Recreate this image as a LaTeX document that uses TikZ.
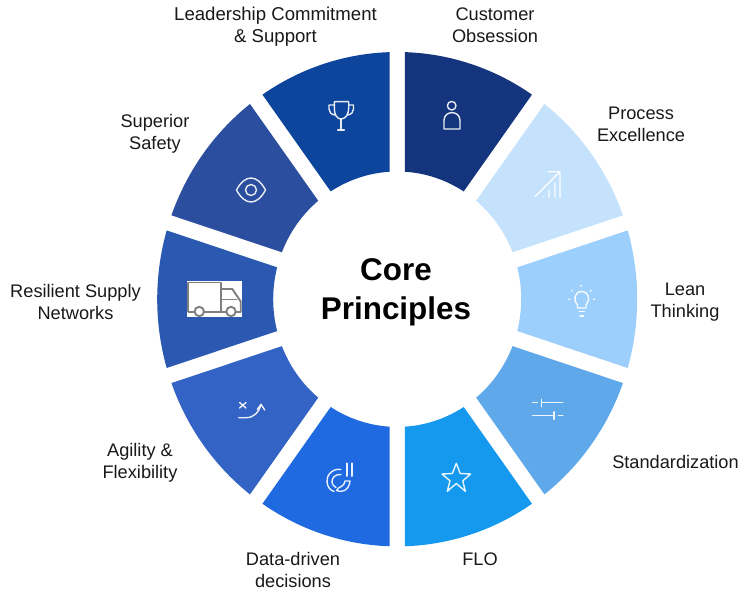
\documentclass[tikz,border=0pt]{standalone}
\usepackage{fontspec}
\setmainfont{Liberation Sans}
\definecolor{cCust}{HTML}{14357E}
\definecolor{cProc}{HTML}{C5E2FD}
\definecolor{cLean}{HTML}{9DCFFD}
\definecolor{cStd}{HTML}{5FA8EA}
\definecolor{cFlo}{HTML}{1599EE}
\definecolor{cData}{HTML}{1F6AE0}
\definecolor{cAgil}{HTML}{3363C4}
\definecolor{cRes}{HTML}{2B58B0}
\definecolor{cSafe}{HTML}{2B4E9E}
\definecolor{cLead}{HTML}{0D459C}
\definecolor{cTruck}{HTML}{7F7F7F}
\tikzset{
  lbl/.style={align=center,inner sep=0pt,text=black!90,font=\fontsize{18.2}{22}\selectfont},
  title/.style={align=center,inner sep=0pt,text=black,font=\fontsize{31.4}{39}\selectfont\bfseries},
  icon/.style={draw=white,line width=1.4pt,line cap=round,line join=round,opacity=.9},
  truckline/.style={draw=cTruck,line width=1.9pt,line join=round}
}
\begin{document}
\begin{tikzpicture}[x=1pt,y=1pt,yscale=-1]
\useasboundingbox (0,0) rectangle (741,591);
\fill[white] (0,0) rectangle (741,591);
\begin{scope}[shift={(397.2,299.2)},yscale=1.03]
\foreach \c/\col in {-72/cCust,-36/cProc,0/cLean,36/cStd,72/cFlo,108/cData,144/cAgil,180/cRes,216/cSafe,252/cLead}{
  \fill[\col] ({\c-14.44}:124pt) -- ({\c-16.16}:240pt)
    arc[start angle={\c-16.16},end angle={\c+16.16},radius=240pt]
    -- ({\c+14.44}:124pt)
    arc[start angle={\c+14.44},end angle={\c-14.44},radius=124pt] -- cycle;
}
\end{scope}
% person
\draw[icon] (451.7,105.7) circle[radius=4.3pt];
\draw[icon] (444,129) -- (444,120.5) .. controls (444,110) and (460,110) .. (460,120.5) -- (460,129) -- cycle;
% growth
\draw[icon] (535,196.7) -- (560,171.7) (548.3,171.7) -- (560,171.7) -- (560,197.3)
  (555,183.3) -- (555,197.3) (549,190) -- (549,197.3) (543.3,196.7) -- (543.5,196.7);
% bulb
\draw[icon] (577.5,308) -- (577.5,305) .. controls (573,301) and (574,291.5) .. (581.7,291.5)
  .. controls (589.5,291.5) and (590.5,301) .. (586,305) -- (586,308) -- cycle;
\draw[icon] (579,311.7) -- (584.5,311.7) (580,316) -- (583.5,316);
\draw[icon,line width=1.8pt] (581,285.5) -- (581,286) (571.7,290.5) -- (571.9,290.9) (590.7,290.9) -- (590.9,290.5) (569,299.3) -- (569.4,299.3) (594,299.3) -- (594.4,299.3);
% sliders
\draw[icon] (541.7,402.7) -- (562.7,402.7) (541.7,399.3) -- (541.7,406.7) (532.7,402.7) -- (537.3,402.7)
  (532.7,415.3) -- (554,415.3) (554,411.7) -- (554,419.3) (558.3,415.3) -- (562.7,415.3);
% star
\draw[icon] (456.3,463.3) -- (460.2,473.5) -- (470.7,474) -- (462.8,480.8) -- (465.3,491.3) -- (456.3,483.5) -- (447.3,491.3) -- (450,480.8) -- (442,474) -- (452.4,473.5) -- cycle;
% chart
\draw[icon,line width=2pt] (347.3,463.3) -- (347.3,476) (352.3,463.3) -- (352.3,476);
\draw[icon] (341,469.5) .. controls (332,468) and (326,476) .. (327,482) .. controls (327.5,487) and (330,490) .. (334,491.5);
\draw[icon] (341,474.5) .. controls (335,474) and (331.5,478) .. (332,482.5) .. controls (332.5,485) and (334,486.5) .. (336,487.5);
\draw[icon] (336.5,490.5) .. controls (341,493) and (349,491) .. (350,481) -- (345,481) .. controls (344.5,485) and (341,487) .. (339,487.5) -- cycle;
% agility
\draw[icon] (239.5,402.5) -- (246,408) (246,402.5) -- (239.5,408);
\draw[icon] (238.7,417.7) -- (246,417.7) .. controls (254,417.7) and (259,412) .. (261,405);
\draw[icon] (257.3,409.5) -- (261,404.3) -- (264.7,410);
% truck
\node[fill=white,minimum width=55pt,minimum height=36pt,inner sep=0pt] (truckbg) at (214.5,299) {};
\draw[truckline] (188,312.3) -- (188,282.5) -- (221,282.5) -- (221,312.3);
\draw[truckline] (221,289) -- (232.3,289) -- (240.7,301.5) -- (240.7,312.3);
\draw[truckline] (221,299.5) -- (236.5,299.5);
\draw[truckline] (188,312.3) -- (194.6,312.3) (204,312.3) -- (226.3,312.3) (235.7,312.3) -- (240.7,312.3);
\draw[truckline,fill=white] (199.3,311.5) circle[radius=4.7pt] (231,311.5) circle[radius=4.7pt];
% eye
\draw[icon] (236.5,190) .. controls (245,174) and (257,174) .. (265.5,190) .. controls (257,206) and (245,206) .. (236.5,190) -- cycle;
\draw[icon] (251,190) circle[radius=5.5pt];
% trophy
\draw[icon] (334.3,101.7) -- (348.7,101.7) -- (348.7,108) .. controls (348.7,115) and (345,119) .. (341,119) .. controls (337,119) and (334.3,115) .. (334.3,108) -- cycle;
\draw[icon] (334.3,105) -- (329,105) -- (329,109) .. controls (329,112) and (331,114.5) .. (335,115);
\draw[icon] (348.7,105) -- (353.5,105) -- (353.5,109) .. controls (353.5,112) and (351.5,114.5) .. (347.5,115);
\draw[icon] (341,119) -- (341,130) (337.7,130) -- (344.3,130);
% labels
\node[title] (core) at (396,292.5) {Core\\Principles};
\node[lbl,font=\fontsize{18.6}{22}\selectfont] (lead) at (275.5,27) {Leadership Commitment\\\& Support};
\node[lbl] (cust) at (495,25) {Customer\\Obsession};
\node[lbl] (proc) at (641,124) {Process\\Excellence};
\node[lbl] (lean) at (685,302) {Lean\\Thinking};
\node[lbl] (std) at (675.5,461.5) {Standardization};
\node[lbl] (flo) at (480,559) {FLO};
\node[lbl] (data) at (293,570) {Data-driven\\decisions};
\node[lbl] (agil) at (140,463) {Agility \&\\Flexibility};
\node[lbl] (res) at (75.5,302) {Resilient Supply\\Networks};
\node[lbl] (safe) at (155,134) {Superior\\Safety};
\end{tikzpicture}
\end{document}
